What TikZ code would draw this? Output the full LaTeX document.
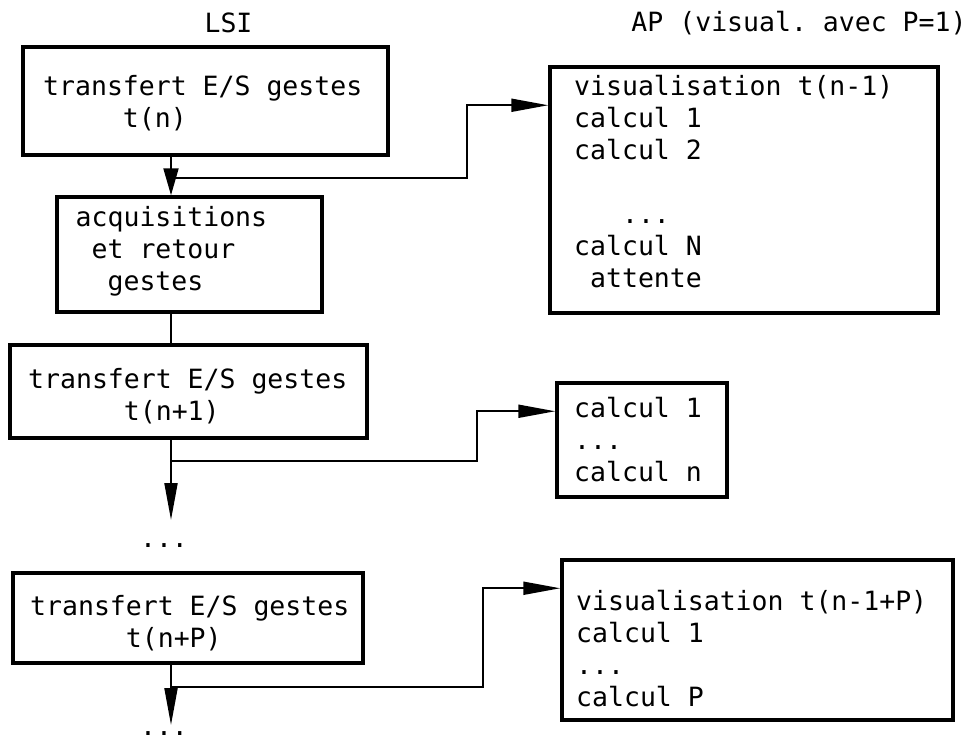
\documentclass[tikz,border=0pt]{standalone}
\usepackage{fontspec}
\setmonofont{DejaVu Sans Mono}
\usepackage{tikz}
\usetikzlibrary{arrows.meta}
\newlength{\cw}
\setlength{\cw}{15.95pt}
\newcommand{\pad}[1]{\hspace*{#1\cw}}
\tikzset{
  frame/.style={draw,line width=3.5pt,inner sep=0pt},
  txt/.style={anchor=north west,align=left,inner sep=0pt,font=\ttfamily\fontsize{26.5}{32}\selectfont},
  head/.style={txt,anchor=base},
  link/.style={line width=2pt},
  flow/.style={link,-{Triangle[length=37pt,width=13pt]}},
}

\begin{document}
\begin{tikzpicture}[x=1pt,y=-1pt]
  \useasboundingbox (0,0) rectangle (977,741);
  % column headers
  \node[head] (lsi) at (228.5,33) {LSI};
  \node[head] (ap) at (799,32) {AP (visual. avec P=1)};
  % LSI side
  \node[frame,minimum width=365pt,minimum height=108pt] (tn) at (205.5,101) {};
  \node[txt] (tnt) at (43,75) {transfert E/S gestes\\\pad{5}t(n)};
  \node[frame,minimum width=265pt,minimum height=115pt] (acq) at (189.5,254.5) {};
  \node[txt] (acqt) at (75.5,206) {acquisitions\\\pad{1}et retour\\\pad{2}gestes};
  \node[frame,minimum width=357pt,minimum height=93pt] (tn1) at (188.5,391.5) {};
  \node[txt] (tn1t) at (28,368) {transfert E/S gestes\\\pad{6}t(n+1)};
  \node[head] (dots1) at (164,547) {...};
  \node[frame,minimum width=350pt,minimum height=90pt] (tnp) at (188,618) {};
  \node[txt] (tnpt) at (30,595) {transfert E/S gestes\\\pad{6}t(n+P)};
  \node[head] (dots2) at (164,735) {...};
  % AP side
  \node[frame,minimum width=388pt,minimum height=246pt] (vis1) at (744,190) {};
  \node[txt] (vis1t) at (574,75) {visualisation t(n-1)\\calcul 1\\calcul 2\\[32pt]\pad{3}...\\calcul N\\\pad{1}attente};
  \node[frame,minimum width=170pt,minimum height=114pt] (calc) at (642,440) {};
  \node[txt] (calct) at (574,397) {calcul 1\\...\\calcul n};
  \node[frame,minimum width=391pt,minimum height=160pt] (visp) at (757.5,640) {};
  \node[txt] (vispt) at (576,590) {visualisation t(n-1+P)\\calcul 1\\...\\calcul P};
  % spine and branches
  \coordinate (sp) at (171,0);
  \coordinate (j1) at (171,178);
  \coordinate (j2) at (171,461);
  \coordinate (j3) at (171,687);
  \coordinate (e1) at (171,520);
  \coordinate (e2) at (171,725);
  \draw[link,-{Triangle[length=27pt,width=15pt]}] (sp |- tn.south) -- (sp |- acq.north);
  \draw[link] (sp |- acq.south) -- (sp |- tn1.north);
  \draw[flow] (sp |- tn1.south) -- (e1);
  \draw[flow] (sp |- tnp.south) -- (e2);
  \draw[flow] (j1) -- ++(296,0) |- ([yshift=-40pt]vis1.north west);
  \draw[flow] (j2) -- ++(306,0) |- ([yshift=-30pt]calc.north west);
  \draw[flow] (j3) -- ++(312,0) |- ([yshift=-30pt]visp.north west);
\end{tikzpicture}
\end{document}
